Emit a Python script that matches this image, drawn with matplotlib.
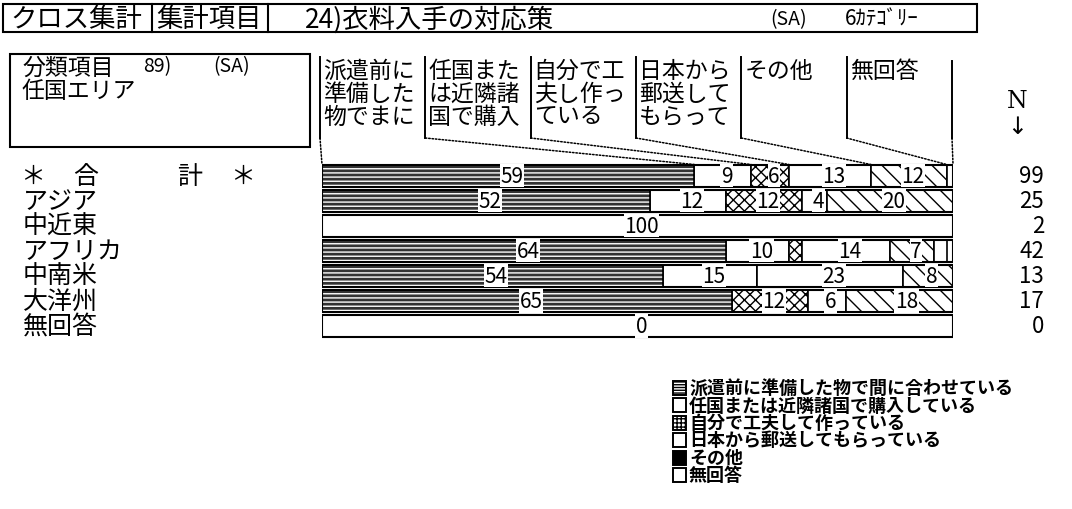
import matplotlib
matplotlib.use('Agg')
import matplotlib.pyplot as plt
from matplotlib.patches import Rectangle, ConnectionPatch
from matplotlib import transforms

plt.rcParams['font.family'] = ['Noto Sans CJK JP', 'DejaVu Sans']
plt.rcParams['hatch.linewidth'] = 1.0

# ---------------- data ----------------
row_labels = ['＊合計＊', 'アジア', '中近東', 'アフリカ', '中南米', '大洋州', '無回答']
n_values = [99, 25, 2, 42, 13, 17, 0]

col_headers = [['派遣前に', '準備した', '物でまに'],
               ['任国また', 'は近隣諸', '国で購入'],
               ['自分で工', '夫し作っ', 'ている'],
               ['日本から', '郵送して', 'もらって'],
               ['その他'],
               ['無回答']]

legend_labels = ['派遣前に準備した物で間に合わせている',
                 '任国または近隣諸国で購入している',
                 '自分で工夫して作っている',
                 '日本から郵送してもらっている',
                 'その他',
                 '無回答']

s_prep = [59, 52, 0, 64, 54, 65, 0]     # 派遣前に準備した物で間に合わせている
s_local = [9, 12, 100, 10, 15, 0, 0]    # 任国または近隣諸国で購入している
s_self = [6, 12, 0, 2, 0, 12, 0]        # 自分で工夫して作っている
s_japan = [13, 4, 0, 14, 23, 6, 0]      # 日本から郵送してもらっている
s_other = [12, 20, 0, 7, 8, 18, 0]      # その他
s_na = [1, 0, 0, 2, 0, 0, 0]            # 無回答
series = [s_prep, s_local, s_self, s_japan, s_other, s_na]

header_items = ['クロス集計', '集計項目', '24)衣料入手の対応策', '(SA)', '6ｶﾃｺﾞﾘｰ']
class_title = ['分類項目', '89)', '(SA)', '任国エリア']

# ---------------- styles ----------------
seg_styles = [
    dict(fc='#333333', hatch=None),
    dict(fc='white', hatch=None),
    dict(fc='white', hatch='xxx'),
    dict(fc='white', hatch=None),
    dict(fc='white', hatch='\\\\'),
    dict(fc='white', hatch=None),
]

W, H = 1072, 510
fig = plt.figure(figsize=(W / 100, H / 100), dpi=100)
fig.patch.set_facecolor('white')

ov = fig.add_axes([0, 0, 1, 1])
ov.set_xlim(0, W)
ov.set_ylim(H, 0)
ov.axis('off')

bar_left_px, bar_right_px = 322, 953
bar_top_px, bar_bot_px = 164, 339.5
bx = fig.add_axes([bar_left_px / W, (H - bar_bot_px) / H,
                   (bar_right_px - bar_left_px) / W, (bar_bot_px - bar_top_px) / H])
bx.set_xlim(0, 100)
bx.set_ylim(len(row_labels) - 0.5, -0.5)
bx.axis('off')

lw_thick = 1.5
nrows = len(row_labels)
bh = 0.88
ypos = list(range(nrows))

# ---------------- bars ----------------
lefts = [0.0] * nrows
for k, vals in enumerate(series):
    st = seg_styles[k]
    bx.barh(ypos, vals, left=lefts, height=bh, color=st['fc'],
            edgecolor='black', linewidth=1.2, hatch=st['hatch'], zorder=2)
    if k == 0:
        bx.barh(ypos, vals, left=lefts, height=bh, color='none',
                edgecolor='white', linewidth=0, hatch='----', zorder=3)
        bx.barh(ypos, vals, left=lefts, height=bh, color='none',
                edgecolor='black', linewidth=1.2, zorder=3)
    lefts = [l + v for l, v in zip(lefts, vals)]

# outline of each row
bx.barh(ypos, [100] * nrows, left=0, height=bh, color='none',
        edgecolor='black', linewidth=lw_thick, zorder=4)

# segment labels
lab_trans = transforms.offset_copy(bx.transData, fig=fig, x=4, y=0, units='dots')
for i in range(nrows):
    cum = 0
    total = sum(s[i] for s in series)
    if total == 0:
        bx.text(50, i, '0', transform=lab_trans, ha='center', va='center',
                fontsize=15, zorder=6,
                bbox=dict(fc='white', ec='none', pad=0.4))
        continue
    for k, s in enumerate(series):
        v = s[i]
        if v >= 4:
            bx.text(cum + v / 2, i, str(v), transform=lab_trans, ha='center',
                    va='center', fontsize=15, zorder=6,
                    bbox=dict(fc='white', ec='none', pad=0.4))
        cum += v

# ---------------- header ----------------
ov.add_patch(Rectangle((3, 5), 974, 28, fill=False, lw=lw_thick, ec='black'))
ov.plot([152, 152], [5, 33], color='black', lw=lw_thick)
ov.plot([268, 268], [5, 33], color='black', lw=lw_thick)
ov.text(10, 19.5, header_items[0], fontsize=19, ha='left', va='center')
ov.text(156, 19.5, header_items[1], fontsize=19, ha='left', va='center')
ov.text(305, 19.5, header_items[2], fontsize=19, ha='left', va='center')
ov.text(770, 19.5, header_items[3], fontsize=14, ha='left', va='center')
ov.text(845, 19.5, header_items[4], fontsize=15, ha='left', va='center')

# ---------------- classification box ----------------
ov.add_patch(Rectangle((10, 55), 300, 93, fill=False, lw=lw_thick, ec='black'))
ov.text(22, 68, class_title[0], fontsize=16.5, ha='left', va='center')
ov.text(143, 67, class_title[1], fontsize=14, ha='left', va='center')
ov.text(213, 67, class_title[2], fontsize=14, ha='left', va='center')
ov.text(22, 92, class_title[3], fontsize=16.5, ha='left', va='center')

# ---------------- column headers ----------------
col_x0, col_x1 = 320, 952
ncol = len(col_headers)
cw = (col_x1 - col_x0) / ncol
line_y = [71, 94, 117]
for c, lines in enumerate(col_headers):
    x = col_x0 + c * cw
    for j, t in enumerate(lines):
        ov.text(x + 3, line_y[j], t, fontsize=16.5, ha='left', va='center')
    ov.plot([x, x], [58, 139], color='black', lw=1.4)
ov.plot([col_x1, col_x1], [62, 139], color='black', lw=1.4)

# leader lines from column header to segment boundaries of total row
bar_top_y = -bh / 2
cum = 0
for c in range(ncol + 1):
    x = col_x0 + c * cw
    cp = ConnectionPatch(xyA=(x, 139), coordsA=ov.transData,
                         xyB=(cum, bar_top_y), coordsB=bx.transData,
                         linestyle=(0, (1, 1.2)), lw=1.1, color='black')
    fig.add_artist(cp)
    if c < ncol:
        cum += series[c][0]

# ---------------- row labels ----------------
rtrans = transforms.blended_transform_factory(ov.transData, bx.transData)
star_parts = [('＊', 33), ('合', 86), ('計', 190), ('＊', 243)]
for t, x in star_parts:
    ov.text(x, 0, t, transform=rtrans, fontsize=18, ha='center', va='center')
for i in range(1, nrows):
    ov.text(23, i, row_labels[i], transform=rtrans, fontsize=18,
            ha='left', va='center')

# ---------------- N column ----------------
ov.text(1017, 101, 'N', fontsize=17, ha='center', va='center', family='DejaVu Serif')
ov.text(1017, 127, '↓', fontsize=17, ha='center', va='center', family='DejaVu Sans')
for i, n in enumerate(n_values):
    ov.text(1044, i, str(n), transform=rtrans, fontsize=16, ha='right', va='center')

# ---------------- legend ----------------
leg_y = [388.5, 406, 423.5, 441, 458.5, 476]
icon_styles = [
    dict(fc='white', hatch='------'),
    dict(fc='white', hatch=None),
    dict(fc='white', hatch='++++'),
    dict(fc='white', hatch=None),
    dict(fc='black', hatch=None),
    dict(fc='white', hatch=None),
]
for k, lab in enumerate(legend_labels):
    y = leg_y[k]
    st = icon_styles[k]
    ov.add_patch(Rectangle((673, y - 7), 13, 14, fc=st['fc'], ec='black',
                           lw=1.4, hatch=st['hatch']))
    ov.text(689, y, lab, fontsize=13, fontweight='bold', ha='left', va='center')

fig.savefig('out.png', dpi=100, facecolor='white')
